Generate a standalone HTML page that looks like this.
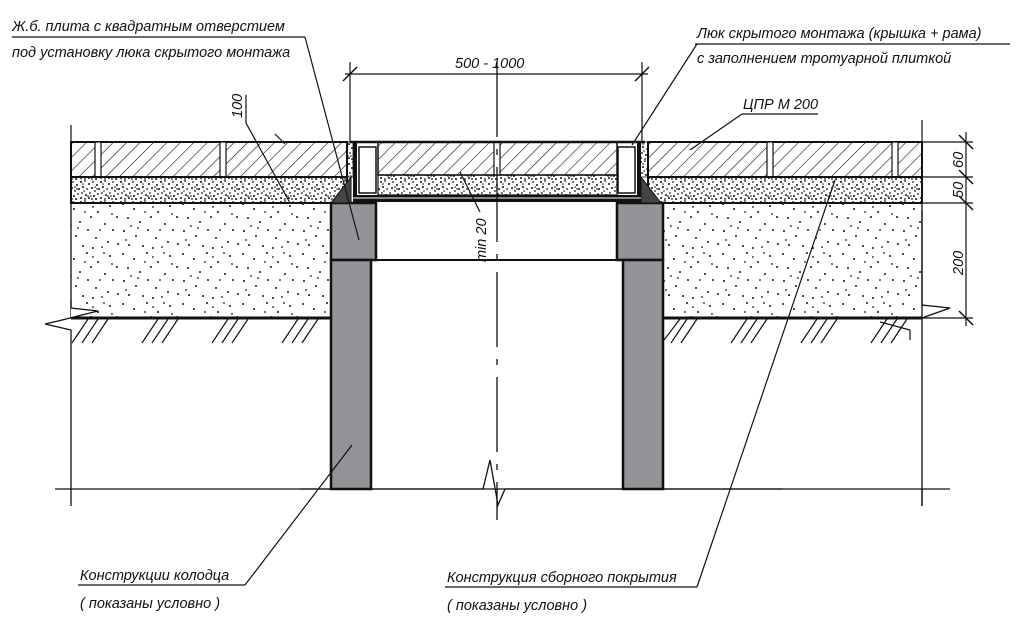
<!DOCTYPE html>
<html><head><meta charset="utf-8"><style>
html,body{margin:0;padding:0;background:#fff;width:1024px;height:634px;overflow:hidden}
svg{display:block}
text{font-family:"Liberation Sans",sans-serif;font-style:italic;fill:#111}
</style></head><body>
<svg width="1024" height="634" viewBox="0 0 1024 634" xmlns="http://www.w3.org/2000/svg">
<defs>
<pattern id="hatch" width="9.5" height="9.5" patternUnits="userSpaceOnUse" patternTransform="rotate(45)">
<line x1="0" y1="0" x2="0" y2="9.5" stroke="#111" stroke-width="1.2"/>
</pattern>
<pattern id="dense" width="20" height="20" patternUnits="userSpaceOnUse">
<g fill="#111">
<circle cx="1" cy="2" r="1"/><circle cx="5" cy="1" r="0.9"/><circle cx="9" cy="4" r="1"/><circle cx="13" cy="2" r="0.9"/><circle cx="17" cy="5" r="1"/>
<circle cx="3" cy="7" r="1"/><circle cx="7" cy="9" r="0.9"/><circle cx="12" cy="8" r="1"/><circle cx="15" cy="11" r="0.9"/><circle cx="19" cy="9" r="1"/>
<circle cx="2" cy="13" r="0.9"/><circle cx="6" cy="15" r="1"/><circle cx="10" cy="13" r="0.9"/><circle cx="14" cy="16" r="1"/><circle cx="18" cy="14" r="0.9"/>
<circle cx="1" cy="18" r="1"/><circle cx="5" cy="19" r="0.9"/><circle cx="9" cy="18" r="1"/><circle cx="12" cy="19" r="0.9"/><circle cx="16" cy="19" r="1"/>
<circle cx="8" cy="16" r="0.8"/><circle cx="4" cy="11" r="0.8"/><circle cx="17" cy="9" r="0.8"/><circle cx="11" cy="16" r="0.8"/><circle cx="3" cy="4" r="0.8"/><circle cx="15" cy="7" r="0.8"/>
</g></pattern>
<pattern id="sparse" width="60" height="50" patternUnits="userSpaceOnUse">
<g fill="#111">
<circle cx="3" cy="4" r="1"/><circle cx="14" cy="9" r="1"/><circle cx="27" cy="3" r="1"/><circle cx="38" cy="12" r="1"/><circle cx="50" cy="6" r="1"/><circle cx="57" cy="17" r="1"/>
<circle cx="8" cy="18" r="1"/><circle cx="20" cy="22" r="1"/><circle cx="31" cy="17" r="1"/><circle cx="45" cy="24" r="1"/><circle cx="53" cy="30" r="1"/>
<circle cx="4" cy="31" r="1"/><circle cx="16" cy="36" r="1"/><circle cx="28" cy="30" r="1"/><circle cx="36" cy="38" r="1"/><circle cx="48" cy="42" r="1"/>
<circle cx="9" cy="45" r="1"/><circle cx="23" cy="46" r="1"/><circle cx="33" cy="48" r="1"/><circle cx="58" cy="44" r="1"/>
<circle cx="11" cy="26" r="0.9"/><circle cx="40" cy="30" r="0.9"/><circle cx="25" cy="12" r="0.9"/><circle cx="44" cy="3" r="0.9"/>
<circle cx="18" cy="28" r="0.9"/><circle cx="52" cy="14" r="0.9"/><circle cx="6" cy="40" r="0.9"/><circle cx="42" cy="47" r="0.9"/><circle cx="33" cy="7" r="0.9"/>
</g></pattern>
</defs>
<g stroke="#111" fill="none">
<rect x="71" y="142" width="276" height="35" fill="url(#hatch)" stroke-width="2"/>
<rect x="648" y="142" width="274" height="35" fill="url(#hatch)" stroke-width="2"/>
<rect x="378" y="142" width="239" height="33" fill="url(#hatch)" stroke-width="1.5"/>
<g stroke-width="1.2" fill="#fff">
<rect x="95" y="142" width="6" height="35"/><rect x="220" y="142" width="6" height="35"/>
<rect x="767" y="142" width="6" height="35"/><rect x="892" y="142" width="6" height="35"/>
<rect x="494" y="142" width="6" height="33"/>
</g>
<rect x="71" y="177" width="276" height="26" fill="url(#dense)" stroke-width="2"/>
<rect x="648" y="177" width="274" height="26" fill="url(#dense)" stroke-width="2"/>
<rect x="378" y="175" width="239" height="20" fill="url(#dense)" stroke-width="1.2"/>
<rect x="347" y="142" width="6" height="35" fill="url(#dense)" stroke-width="0.8"/>
<rect x="640" y="142" width="8" height="35" fill="url(#dense)" stroke-width="0.8"/>
<rect x="71" y="203" width="260" height="115" fill="url(#sparse)" stroke-width="1.3"/>
<rect x="663" y="203" width="259" height="115" fill="url(#sparse)" stroke-width="1.3"/>
<line x1="71" y1="318" x2="331" y2="318" stroke-width="3"/>
<line x1="663" y1="318" x2="922" y2="318" stroke-width="3"/>
<polyline points="71,300 71,308 98,311 58,321 45,324 71,330 71,506" fill="#fff" stroke-width="1.3"/>
<polyline points="922,210 922,305 950,308 922,318 922,506" fill="none" stroke-width="1.3"/>
<g stroke-width="1.2">
<path d="M72,343 L88,319 M82,343 L98,319 M92,343 L108,319"/>
<path d="M142,343 L158,319 M152,343 L168,319 M162,343 L178,319"/>
<path d="M212,343 L228,319 M222,343 L238,319 M232,343 L248,319"/>
<path d="M282,343 L298,319 M292,343 L308,319 M302,343 L318,319"/>
<path d="M664,340 L680,319 M671,343 L687,319 M681,343 L697,319"/>
<path d="M731,343 L747,319 M741,343 L757,319 M751,343 L767,319"/>
<path d="M801,343 L817,319 M811,343 L827,319 M821,343 L837,319"/>
<path d="M871,343 L887,319 M881,343 L897,319 M891,343 L907,319"/>
</g>
<line x1="55" y1="489" x2="783" y2="489" stroke-width="1.3"/>
<polyline points="300,489 483,489 490,460 498,505 505,489 950,489" stroke-width="1.3"/>
<line x1="922" y1="489" x2="922" y2="506" stroke-width="1.3"/>
<rect x="331" y="203" width="45" height="57" fill="#939397" stroke-width="2.5"/>
<rect x="617" y="203" width="46" height="57" fill="#939397" stroke-width="2.5"/>
<rect x="331" y="260" width="40" height="229" fill="#939397" stroke-width="2.5"/>
<rect x="623" y="260" width="40" height="229" fill="#939397" stroke-width="2.5"/>
<line x1="376" y1="260" x2="617" y2="260" stroke-width="2"/>
<polygon points="351,177 351,203 331,203" fill="#444" stroke-width="1"/>
<polygon points="641,177 641,203 661,203" fill="#444" stroke-width="1"/>
<line x1="350" y1="142" x2="645" y2="142" stroke-width="2.5"/>
<rect x="353" y="142" width="4" height="58" fill="#111" stroke-width="0"/>
<rect x="637" y="142" width="4" height="58" fill="#111" stroke-width="0"/>
<rect x="359" y="147" width="17" height="46" fill="#fff" stroke-width="1.5"/>
<rect x="618" y="147" width="17" height="46" fill="#fff" stroke-width="1.5"/>
<rect x="353" y="195" width="288" height="7" fill="#111" stroke-width="0"/>
<line x1="353" y1="198" x2="641" y2="198" stroke="#fff" stroke-width="1"/>
<line x1="350" y1="62" x2="350" y2="142" stroke-width="1.2"/>
<line x1="642" y1="62" x2="642" y2="142" stroke-width="1.2"/>
<line x1="345" y1="74" x2="648" y2="74" stroke-width="1.2"/>
<line x1="343" y1="81" x2="357" y2="67" stroke-width="1.5"/>
<line x1="635" y1="81" x2="649" y2="67" stroke-width="1.5"/>
<line x1="497" y1="62" x2="497" y2="520" stroke-width="1.3" stroke-dasharray="75,12,6,12"/>
<line x1="966" y1="132" x2="966" y2="326" stroke-width="1.2"/>
<g stroke-width="1.2">
<line x1="922" y1="142" x2="973" y2="142"/><line x1="922" y1="177" x2="973" y2="177"/>
<line x1="922" y1="203" x2="973" y2="203"/><line x1="922" y1="318" x2="973" y2="318"/>
<line x1="922" y1="120" x2="922" y2="142"/>
</g>
<g stroke-width="1.5">
<line x1="959" y1="135" x2="973" y2="149"/><line x1="959" y1="170" x2="973" y2="184"/>
<line x1="959" y1="196" x2="973" y2="210"/><line x1="959" y1="311" x2="973" y2="325"/>
</g>
<line x1="71" y1="125" x2="71" y2="142" stroke-width="1.2"/>
<g stroke-width="1.2">
<line x1="12" y1="37" x2="305" y2="37"/>
<line x1="305" y1="37" x2="359" y2="240"/>
<polyline points="246,95 246,123 290,203"/>
<line x1="275" y1="134" x2="285" y2="144"/>
<line x1="695" y1="44" x2="1010" y2="44"/>
<line x1="697" y1="44" x2="632" y2="145"/>
<line x1="742" y1="114" x2="818" y2="114"/>
<line x1="742" y1="114" x2="690" y2="150"/>
<line x1="480" y1="212" x2="460" y2="172"/>
<line x1="78" y1="585" x2="245" y2="585"/>
<line x1="245" y1="585" x2="352" y2="445"/>
<line x1="445" y1="587" x2="697" y2="587"/>
<line x1="697" y1="587" x2="835" y2="180"/>
<polyline points="910,340 910,330 880,322"/>
</g>
</g>
<g font-size="14.5">
<text x="12" y="31">Ж.б. плита с квадратным отверстием</text>
<text x="12" y="57">под установку люка скрытого монтажа</text>
<text x="697" y="38">Люк скрытого монтажа (крышка + рама)</text>
<text x="697" y="63">с заполнением тротуарной плиткой</text>
<text x="743" y="109">ЦПР М 200</text>
<text x="455" y="68">500 - 1000</text>
<text x="80" y="580">Конструкции колодца</text>
<text x="80" y="608">( показаны условно )</text>
<text x="447" y="582">Конструкция сборного покрытия</text>
<text x="447" y="610">( показаны условно )</text>
<text transform="translate(242,118) rotate(-90)">100</text>
<text transform="translate(486,262) rotate(-90)">min 20</text>
<text transform="translate(963,168) rotate(-90)">60</text>
<text transform="translate(963,198) rotate(-90)">50</text>
<text transform="translate(963,275) rotate(-90)">200</text>
</g>
</svg>
</body></html>
